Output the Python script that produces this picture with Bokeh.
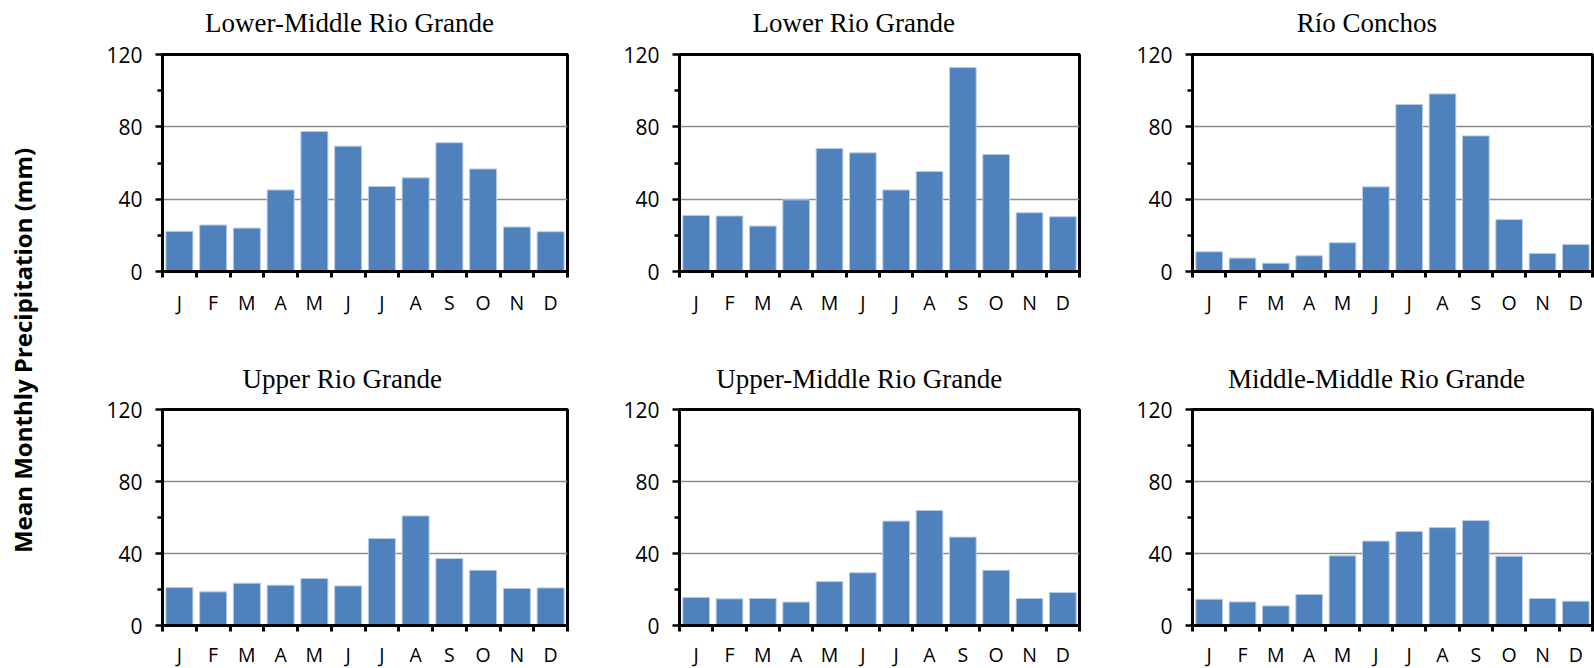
import math
from bokeh.plotting import figure
from bokeh.models import Range1d, FixedTicker, Label
from bokeh.core.properties import value
from bokeh.layouts import row, column
from bokeh.embed import file_html
from bokeh.resources import INLINE

months = ["J", "F", "M", "A", "M", "J", "J", "A", "S", "O", "N", "D"]
month_pos = list(range(1, 13))
y_ticks = [0, 40, 80, 120]
y_minor = [20, 60, 100]

titles = ["Lower-Middle Rio Grande", "Lower Rio Grande", "Río Conchos",
          "Upper Rio Grande", "Upper-Middle Rio Grande", "Middle-Middle Rio Grande"]

lower_middle = [22.2, 25.7, 24.0, 45.1, 77.4, 69.3, 47.0, 51.8, 71.2, 56.7, 24.6, 22.0]
lower = [31.0, 30.7, 25.1, 39.6, 68.0, 65.6, 45.1, 55.3, 112.8, 64.7, 32.5, 30.3]
conchos = [10.9, 7.4, 4.6, 8.7, 15.9, 46.8, 92.4, 98.2, 75.0, 28.7, 10.0, 15.0]
upper = [21.1, 18.7, 23.5, 22.4, 26.1, 22.0, 48.3, 60.9, 37.2, 30.7, 20.6, 20.9]
upper_middle = [15.6, 14.8, 15.0, 13.0, 24.4, 29.3, 58.0, 63.9, 49.1, 30.7, 15.0, 18.3]
middle_middle = [14.6, 13.1, 10.9, 17.2, 38.7, 46.9, 52.2, 54.4, 58.3, 38.5, 15.0, 13.5]

series = [lower_middle, lower, conchos, upper, upper_middle, middle_middle]

BAR = "#4F81BD"
TICK_FONT = "Open Sans"


def blank(w, h):
    f = figure(width=w, height=h,
               x_range=Range1d(0, w), y_range=Range1d(0, h),
               toolbar_location=None, output_backend="svg",
               x_axis_type=None, y_axis_type=None,
               min_border_left=0, min_border_right=0, min_border_top=0, min_border_bottom=0)
    f.outline_line_color = None
    f.xgrid.visible = False
    f.ygrid.visible = False
    f.background_fill_color = "white"
    f.border_fill_color = "white"
    return f


def make_plot(vals, bl, br, bt, bb, fw, fh):
    p = figure(width=bl + fw + br, height=bt + fh + bb,
               x_range=Range1d(0.5, 12.5), y_range=Range1d(0, 120),
               toolbar_location=None, output_backend="svg",
               min_border_left=bl, min_border_right=br,
               min_border_top=bt, min_border_bottom=bb)
    p.background_fill_color = "white"
    p.border_fill_color = "white"
    p.outline_line_color = "black"
    p.outline_line_width = 3

    p.vbar(x=month_pos, top=vals, bottom=0, width=0.8,
           fill_color=BAR, line_color="#b9cde5", line_width=1)

    p.xgrid.visible = False
    p.ygrid.ticker = FixedTicker(ticks=[40, 80])
    p.ygrid.grid_line_color = "#8c8c8c"
    p.ygrid.grid_line_width = 1.5

    xa = p.xaxis[0]
    xa.ticker = FixedTicker(ticks=[], minor_ticks=[i + 0.5 for i in range(0, 13)])
    xa.major_tick_out = 0
    xa.major_tick_in = 0
    xa.minor_tick_out = 6
    xa.minor_tick_in = 0
    xa.minor_tick_line_width = 3
    xa.minor_tick_line_color = "black"
    xa.axis_line_width = 3
    xa.axis_line_color = "black"
    xa.major_label_standoff = 0

    ya = p.yaxis[0]
    ya.ticker = FixedTicker(ticks=y_ticks, minor_ticks=y_minor)
    ya.major_tick_out = 7
    ya.major_tick_in = 0
    ya.minor_tick_out = 5
    ya.minor_tick_in = 0
    ya.major_tick_line_width = 2.5
    ya.minor_tick_line_width = 2.5
    ya.axis_line_width = 3
    ya.axis_line_color = "black"
    ya.major_label_standoff = 13
    ya.major_label_text_font = TICK_FONT
    ya.major_label_text_font_size = "21px"
    ya.major_label_text_color = "black"
    return p


def make_months(bl, br, fw, h, yc):
    m = figure(width=bl + fw + br, height=h,
               x_range=Range1d(0.5, 12.5), y_range=Range1d(0, h),
               toolbar_location=None, output_backend="svg",
               x_axis_type=None, y_axis_type=None,
               min_border_left=bl, min_border_right=br, min_border_top=0, min_border_bottom=0)
    m.outline_line_color = None
    m.xgrid.visible = False
    m.ygrid.visible = False
    m.text(x=month_pos, y=[yc] * len(month_pos), text=months,
           text_align="center", text_baseline="middle",
           text_font=value(TICK_FONT), text_font_size="19.5px", text_color="black")
    return m


# column geometry: (border_left, frame_width, border_right)
cols = [(102, 405, 53), (53, 406, 54), (53, 406, 2)]
# row geometry: title strip height, title centre from strip bottom,
# plot top border, frame height, plot bottom border, month strip height, month centre from strip bottom
rows = [(38, 15.5, 16, 217, 16, 53, 38),
        (54, 16, 15, 216, 15, 28, 13.8)]
# horizontal anchor of each title inside its title strip
title_x = [258.5, 223.5, 201, 248.5, 230.5, 212]

row_layouts = []
for r, (th, tyc, bt, fh, bb, mh, myc) in enumerate(rows):
    panels = []
    for c, (bl, fw, br) in enumerate(cols):
        k = r * 3 + c
        w = bl + fw + br
        t = blank(w, th)
        t.add_layout(Label(x=title_x[k], y=tyc, text=titles[k],
                           text_align="center", text_baseline="middle",
                           text_font="Liberation Serif", text_font_size="27px",
                           text_color="black"))
        p = make_plot(series[k], bl, br, bt, bb, fw, fh)
        m = make_months(bl, br, fw, mh, myc)
        panels.append(column(t, p, m, spacing=0))
    row_layouts.append(row(*panels, spacing=0))

lab = blank(60, 668)
lab.add_layout(Label(x=21.5, y=318, text="Mean Monthly Precipitation (mm)",
                     angle=math.pi / 2, text_align="center", text_baseline="middle",
                     text_font="Open Sans", text_font_style="bold", text_font_size="24px",
                     text_color="black"))

layout = row(lab, column(*row_layouts, spacing=0), spacing=0)

open("out.html", "w").write(file_html(layout, INLINE))
